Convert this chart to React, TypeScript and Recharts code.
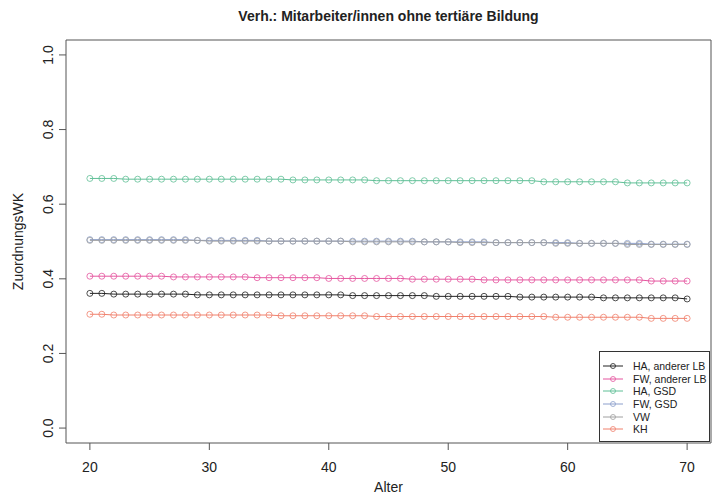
import { LineChart, Line, XAxis, YAxis, ReferenceArea, Label } from 'recharts';

const ages = [
  20, 21, 22, 23, 24, 25, 26, 27, 28, 29, 30, 31, 32, 33, 34, 35, 36, 37, 38, 39,
  40, 41, 42, 43, 44, 45, 46, 47, 48, 49, 50, 51, 52, 53, 54, 55, 56, 57, 58, 59,
  60, 61, 62, 63, 64, 65, 66, 67, 68, 69, 70,
];

const haAndererLB = [
  0.361, 0.361, 0.359, 0.359, 0.359, 0.359, 0.359, 0.359, 0.359, 0.357,
  0.357, 0.357, 0.357, 0.357, 0.357, 0.357, 0.357, 0.357, 0.357, 0.357,
  0.357, 0.357, 0.355, 0.355, 0.355, 0.355, 0.355, 0.355, 0.355, 0.353,
  0.353, 0.353, 0.353, 0.353, 0.353, 0.353, 0.351, 0.351, 0.351, 0.351,
  0.351, 0.351, 0.351, 0.349, 0.349, 0.349, 0.349, 0.349, 0.349, 0.349, 0.346,
];

const fwAndererLB = [
  0.407, 0.407, 0.407, 0.407, 0.407, 0.407, 0.407, 0.405, 0.405, 0.405,
  0.405, 0.405, 0.405, 0.405, 0.403, 0.403, 0.403, 0.403, 0.403, 0.403,
  0.401, 0.401, 0.401, 0.401, 0.401, 0.401, 0.401, 0.399, 0.399, 0.399,
  0.399, 0.399, 0.399, 0.397, 0.397, 0.397, 0.397, 0.397, 0.397, 0.397,
  0.397, 0.397, 0.397, 0.397, 0.397, 0.397, 0.397, 0.394, 0.394, 0.394, 0.394,
];

const haGSD = [
  0.669, 0.669, 0.669, 0.667, 0.667, 0.667, 0.667, 0.667, 0.667, 0.667,
  0.667, 0.667, 0.667, 0.667, 0.667, 0.667, 0.667, 0.665, 0.665, 0.665,
  0.665, 0.665, 0.665, 0.665, 0.663, 0.663, 0.663, 0.663, 0.663, 0.663,
  0.663, 0.663, 0.663, 0.663, 0.663, 0.663, 0.663, 0.663, 0.660, 0.660,
  0.660, 0.660, 0.660, 0.660, 0.660, 0.657, 0.657, 0.657, 0.657, 0.657, 0.657,
];

const fwGSD = [
  0.505, 0.505, 0.505, 0.505, 0.505, 0.505, 0.505, 0.505, 0.505, 0.503,
  0.503, 0.503, 0.503, 0.503, 0.503, 0.501, 0.501, 0.501, 0.501, 0.501,
  0.501, 0.501, 0.501, 0.501, 0.501, 0.501, 0.501, 0.501, 0.499, 0.499,
  0.499, 0.499, 0.499, 0.499, 0.497, 0.497, 0.497, 0.497, 0.497, 0.497,
  0.497, 0.495, 0.495, 0.495, 0.495, 0.495, 0.495, 0.493, 0.493, 0.493, 0.493,
];

const vw = [
  0.503, 0.503, 0.503, 0.503, 0.503, 0.503, 0.503, 0.503, 0.503, 0.503,
  0.501, 0.501, 0.501, 0.501, 0.501, 0.501, 0.501, 0.501, 0.501, 0.501,
  0.501, 0.501, 0.499, 0.499, 0.499, 0.499, 0.499, 0.499, 0.499, 0.499,
  0.499, 0.497, 0.497, 0.497, 0.497, 0.497, 0.497, 0.497, 0.497, 0.495,
  0.495, 0.495, 0.495, 0.495, 0.495, 0.492, 0.492, 0.492, 0.492, 0.492, 0.492,
];

const kh = [
  0.305, 0.305, 0.303, 0.303, 0.303, 0.303, 0.303, 0.303, 0.303, 0.303,
  0.303, 0.303, 0.303, 0.303, 0.303, 0.303, 0.301, 0.301, 0.301, 0.301,
  0.301, 0.301, 0.301, 0.301, 0.299, 0.299, 0.299, 0.299, 0.299, 0.299,
  0.299, 0.299, 0.299, 0.299, 0.299, 0.299, 0.299, 0.299, 0.299, 0.297,
  0.297, 0.297, 0.297, 0.297, 0.297, 0.297, 0.297, 0.294, 0.294, 0.294, 0.294,
];

const xTicks = [20, 30, 40, 50, 60, 70];
const yTicks = [0, 0.2, 0.4, 0.6, 0.8, 1.0];

const series = [
  { key: 'haAndererLB', name: 'HA, anderer LB', color: '#222222', values: haAndererLB },
  { key: 'fwAndererLB', name: 'FW, anderer LB', color: '#e5559f', values: fwAndererLB },
  { key: 'haGSD', name: 'HA, GSD', color: '#5fbf96', values: haGSD },
  { key: 'fwGSD', name: 'FW, GSD', color: '#8c9fcc', values: fwGSD },
  { key: 'vw', name: 'VW', color: '#a0a0a0', values: vw },
  { key: 'kh', name: 'KH', color: '#f0806c', values: kh },
];

const data = ages.map((age, i) => {
  const row: Record<string, number> = { age };
  series.forEach((s) => {
    row[s.key] = s.values[i];
  });
  return row;
});

const font = '"Liberation Sans", Arial, sans-serif';

function YTick(props: any) {
  const { x, y, payload } = props;
  return (
    <text
      x={x - 4}
      y={y}
      transform={`rotate(-90, ${x - 4}, ${y})`}
      textAnchor="middle"
      fontSize={14}
      fill="#222"
      fontFamily={font}
    >
      {payload.value.toFixed(1)}
    </text>
  );
}

function XTick(props: any) {
  const { x, y, payload } = props;
  return (
    <text x={x} y={y + 20} textAnchor="middle" fontSize={14} fill="#222" fontFamily={font}>
      {payload.value}
    </text>
  );
}

function LegendBox() {
  return (
    <div
      style={{
        position: 'absolute',
        left: 599,
        top: 351,
        width: 111,
        height: 91,
        border: '1px solid #333',
        background: '#fff',
        boxSizing: 'border-box',
        fontFamily: font,
        fontSize: 10.5,
        color: '#222',
        paddingTop: 8,
        whiteSpace: 'nowrap',
        overflow: 'hidden',
      }}
    >
      {series.map((s) => (
        <div key={s.key} style={{ display: 'flex', alignItems: 'center', height: 12.6 }}>
          <svg width={30} height={10} style={{ marginLeft: 3, flexShrink: 0 }}>
            <line x1={0} y1={5} x2={20} y2={5} stroke={s.color} strokeWidth={1} />
            <circle cx={10} cy={5} r={2.5} fill="none" stroke={s.color} strokeWidth={0.8} />
          </svg>
          <span>{s.name}</span>
        </div>
      ))}
    </div>
  );
}

export default function App() {
  return (
    <div style={{ position: 'absolute', left: 0, top: 0, width: 717, height: 497, background: '#fff' }}>
      <div
        style={{
          position: 'absolute',
          left: 66,
          width: 645,
          top: 8,
          textAlign: 'center',
          fontFamily: font,
          fontWeight: 'bold',
          fontSize: 14,
          color: '#222',
        }}
      >
        Verh.: Mitarbeiter/innen ohne tertiäre Bildung
      </div>
      <LineChart width={717} height={497} data={data} margin={{ top: 40, right: 6, bottom: 0, left: 0 }}>
        <XAxis
          dataKey="age"
          type="number"
          domain={[18, 72]}
          ticks={xTicks}
          allowDataOverflow
          axisLine={false}
          tickLine={{ stroke: '#555' }}
          tickSize={7}
          tick={<XTick />}
          height={54}
        >
          <Label value="Alter" position="insideBottom" offset={5} fontSize={14} fill="#222" fontFamily={font} />
        </XAxis>
        <YAxis
          type="number"
          domain={[-0.04, 1.04]}
          ticks={yTicks}
          allowDataOverflow
          axisLine={false}
          tickLine={{ stroke: '#555' }}
          tickSize={7}
          tick={<YTick />}
          width={66}
        >
          <Label
            value="ZuordnungsWK"
            angle={-90}
            position="insideLeft"
            offset={18}
            style={{ textAnchor: 'middle' }}
            fontSize={14}
            fill="#222"
            fontFamily={font}
          />
        </YAxis>
        <ReferenceArea
          x1={18}
          x2={72}
          y1={-0.04}
          y2={1.04}
          fill="none"
          stroke="#555"
          strokeWidth={1}
          ifOverflow="visible"
        />
        {series.map((s) => (
          <Line
            key={s.key}
            dataKey={s.key}
            name={s.name}
            stroke={s.color}
            strokeWidth={1}
            isAnimationActive={false}
            dot={{ r: 3, fill: 'none', stroke: s.color, strokeWidth: 0.8, fillOpacity: 0 }}
            activeDot={false}
          />
        ))}
      </LineChart>
      <LegendBox />
    </div>
  );
}
